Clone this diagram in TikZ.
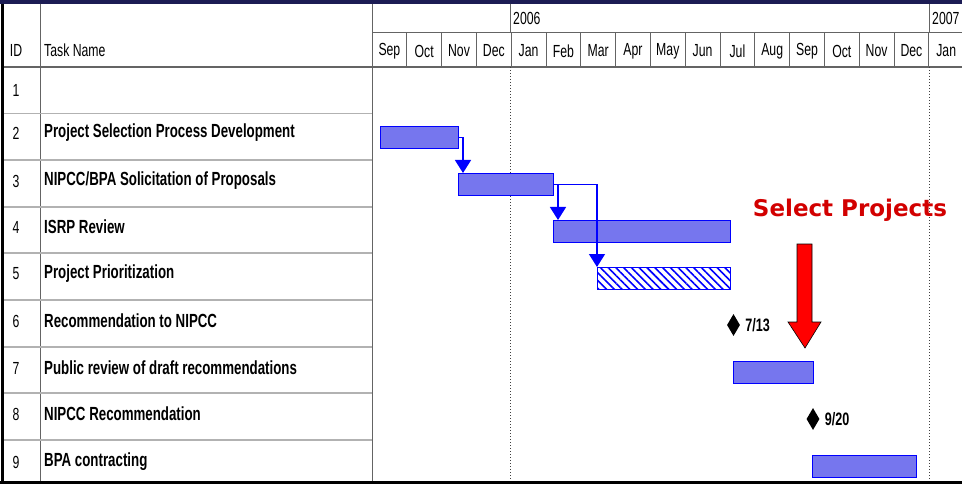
\documentclass[tikz,border=0pt]{standalone}
\usepackage{fontspec}
\setmainfont{Liberation Sans}
\newfontfamily\narrowfont[FakeStretch=0.7]{Liberation Sans}
\newfontfamily\calloutfont{DejaVu Sans}
\usetikzlibrary{arrows.meta,patterns.meta,shapes.geometric,positioning}
\definecolor{navyband}{RGB}{28,28,84}
\definecolor{barblue}{RGB}{118,118,238}
\definecolor{calloutred}{RGB}{210,0,0}
\definecolor{gridgray}{RGB}{100,100,100}

\begin{document}
\begin{tikzpicture}[x=1pt,y=-1pt,every node/.style={inner sep=0pt},
	headtext/.style={font=\narrowfont\fontsize{17.5}{17.5}\selectfont},
	tasktext/.style={anchor=west,font=\narrowfont\bfseries\fontsize{19}{19}\selectfont},
	taskbar/.style={anchor=north west,draw=blue,line width=1.2pt,fill=barblue,minimum height=22pt},
	hatchbar/.style={anchor=north west,draw=blue,line width=1.2pt,pattern={Lines[angle=-45,distance=5.5pt,line width=1.6pt]},pattern color=blue,minimum height=22pt},
	link/.style={draw=blue,line width=1.5pt,-{Triangle[width=16pt,length=13pt]}},
	milestone/.style={diamond,fill=black,minimum width=13pt,minimum height=22pt},
	datetext/.style={font=\narrowfont\bfseries\fontsize{18}{18}\selectfont}]
	\useasboundingbox (0,0) rectangle (962,484);
	% frame and grid
	\fill[navyband] (0,0) rectangle (962,4);
	\draw[gridgray,line width=1pt] (40,4) -- (40,482) (372,4) -- (372,482);
	\draw[gridgray,line width=1pt] (372,33) -- (962,33);
	\draw[gridgray,line width=2pt] (4,67) -- (962,67);
	\draw[gray!60,line width=1.5pt] (4,113.5) -- (372,113.5) (4,160) -- (372,160) (4,207) -- (372,207)
		(4,253) -- (372,253) (4,300) -- (372,300) (4,347) -- (372,347) (4,393) -- (372,393) (4,440) -- (372,440);
	\draw[gridgray,line width=1pt] (510,4) -- (510,33) (929,4) -- (929,33);
	\draw[gray!50!black,dotted,line width=1pt] (510,67) -- (510,482) (929,67) -- (929,482);
	\draw[line width=3.5pt] (2.5,4) -- (2.5,484);
	\draw[line width=3pt] (0,482.5) -- (962,482.5);
	% header
	\node[headtext] (hid) at (16,50) {ID};
	\node[headtext,anchor=west] (hname) at (44,50) {Task Name};
	\node[headtext,anchor=west] (y2006) at (513,18) {2006};
	\node[headtext,anchor=west] (y2007) at (932,18) {2007};
	\foreach \m [count=\k from 0] in {Sep,Oct,Nov,Dec,Jan,Feb,Mar,Apr,May,Jun,Jul,Aug,Sep,Oct,Nov,Dec,Jan}
	{
		\node[headtext] (mon\k) at ({372+34.8*(\k+0.5)},51) {\m};
		\ifnum\k>0 \draw[gridgray,line width=1pt] ({372+34.8*\k},33) -- ({372+34.8*\k},67); \fi
	}
	% ids and task names
	\foreach \i/\y in {1/90,2/133,3/181,4/227,5/274,6/321,7/368,8/414,9/462}
		\node[headtext] (id\i) at (16,\y) {\i};
	\node[tasktext] (t2) at (44,133) {Project Selection Process Development};
	\node[tasktext] (t3) at (44,181) {NIPCC/BPA Solicitation of Proposals};
	\node[tasktext] (t4) at (44,227) {ISRP Review};
	\node[tasktext] (t5) at (44,274) {Project Prioritization};
	\node[tasktext] (t6) at (44,321) {Recommendation to NIPCC};
	\node[tasktext] (t7) at (44,368) {Public review of draft recommendations};
	\node[tasktext] (t8) at (44,414) {NIPCC Recommendation};
	\node[tasktext] (t9) at (44,462) {BPA contracting};
	% bars
	\node[taskbar,minimum width=78pt] (b2) at (380,126) {};
	\node[taskbar,minimum width=95pt] (b3) at (458,173) {};
	\node[taskbar,minimum width=177pt] (b4) at (553,220) {};
	\node[hatchbar,minimum width=133pt] (b5) at (597,267) {};
	\node[taskbar,minimum width=80pt] (b7) at (733,361) {};
	\node[taskbar,minimum width=104pt] (b9) at (812,455) {};
	% milestones
	\node[milestone] (m6) at (733.5,325) {};
	\node[datetext,right=5pt of m6] (d6) {7/13};
	\node[milestone] (m8) at (813,419) {};
	\node[datetext,right=5pt of m8] (d8) {9/20};
	% links
	\draw[link] (b2.east) -| ([xshift=5pt]b3.north west);
	\draw[link] (b3.east) -| ([xshift=5pt]b4.north west);
	\draw[link] (b3.east) -| (b5.north west);
	% callout
	\node[font=\calloutfont\bfseries\fontsize{23}{23}\selectfont,text=calloutred] (select) at (850,210) {Select Projects};
	\filldraw[fill=red,draw=black,line width=0.6pt] (797,244) -- (812,244) -- (812,322) -- (821,322) -- (805,348)
		-- (788,322) -- (797,322) -- cycle;
\end{tikzpicture}
\end{document}
